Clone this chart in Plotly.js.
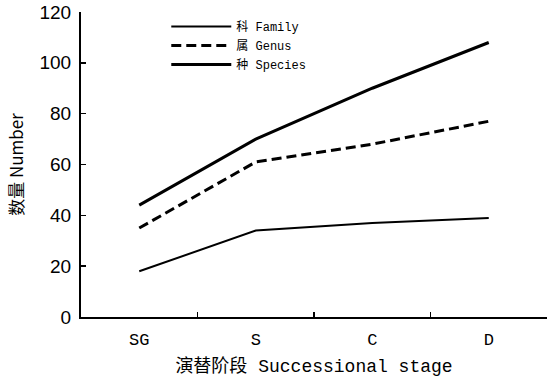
<!DOCTYPE html>
<html><head><meta charset="utf-8">
<script src="https://cdn.plot.ly/plotly-3.0.1.min.js"></script>
<style>html,body{margin:0;padding:0;background:#fff}#chart{width:549px;height:382px}</style>
</head><body><div id="chart"></div>
<script>
const stages = ["SG", "S", "C", "D"];
const family = [18, 34, 37, 39];
const genus = [35, 61, 68, 77];
const species = [44, 70, 90, 108];
const yTicks = [0, 20, 40, 60, 80, 100, 120];
const names = ["科 Family", "属 Genus", "种 Species"];

const mono = "Liberation Mono, Noto Sans CJK SC, monospace";
const traces = [
  {x: stages, y: family, name: names[0], mode: "lines", line: {color: "#000", width: 2}},
  {x: stages, y: genus, name: names[1], mode: "lines", line: {color: "#000", width: 3, dash: "10px,5px"}},
  {x: stages, y: species, name: names[2], mode: "lines", line: {color: "#000", width: 3}}
];
const layout = {
  width: 549, height: 382,
  margin: {l: 81, r: 2, t: 12, b: 65},
  paper_bgcolor: "#fff", plot_bgcolor: "#fff",
  showlegend: true,
  legend: {x: 0.183, y: 1.0, xanchor: "left", yanchor: "top", bgcolor: "rgba(0,0,0,0)",
    font: {family: mono, size: 12, color: "#000"}, itemwidth: 60, tracegroupgap: 0},
  xaxis: {
    type: "category", range: [-0.5, 3.5], tickson: "boundaries",
    ticks: "inside", ticklen: 5, tickwidth: 1.5, tickcolor: "#000",
    showline: true, linecolor: "#000", linewidth: 2, showgrid: false, zeroline: false,
    tickfont: {family: mono, size: 17, color: "#000"}, ticklabelstandoff: 6,
    title: {text: "演替阶段 Successional stage", font: {family: mono, size: 18, color: "#000"}, standoff: 10}
  },
  yaxis: {
    range: [0, 120], tickvals: yTicks, ticktext: yTicks.map(String),
    ticks: "inside", ticklen: 5, tickwidth: 1.5, tickcolor: "#000",
    showline: true, linecolor: "#000", linewidth: 2, showgrid: false, zeroline: false,
    tickfont: {family: "Liberation Sans, Arial, sans-serif", size: 19, color: "#000"}, ticklabelstandoff: 4,
    title: {text: "数量 Number", font: {family: "Noto Sans CJK SC, sans-serif", size: 17, color: "#000"}, standoff: 12}
  }
};
Plotly.newPlot("chart", traces, layout, {staticPlot: true, displayModeBar: false});
</script></body></html>
